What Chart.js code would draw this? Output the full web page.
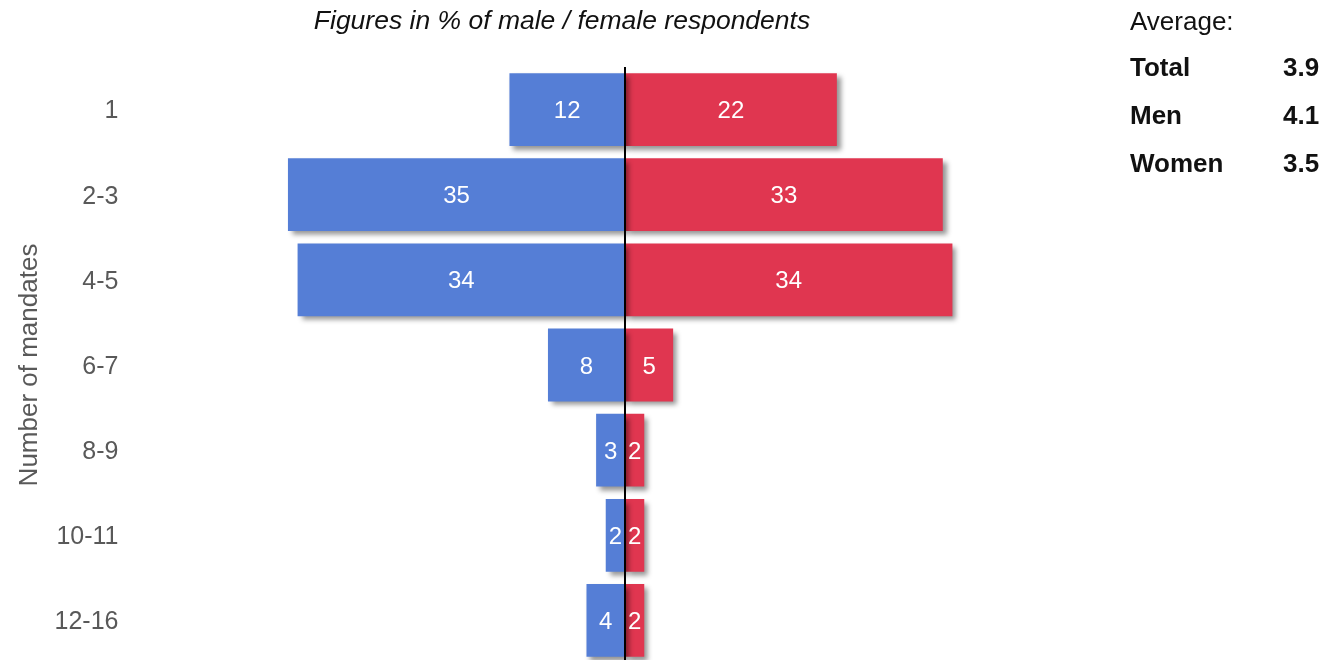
<!DOCTYPE html>
<html>
<head>
<meta charset="utf-8">
<title>Number of mandates by gender</title>
<script src="https://cdn.jsdelivr.net/npm/chart.js@4/dist/chart.umd.min.js"></script>
<style>
  html, body { margin: 0; padding: 0; background: #fff; overflow: hidden; }
  canvas { display: block; }
</style>
</head>
<body>
<canvas id="myChart" width="1331" height="695"></canvas>
<script>
'use strict';

// DATA
const mandates = ['1', '2-3', '4-5', '6-7', '8-9', '10-11', '12-16'];
const menValues = [12, 35, 34, 8, 3, 2, 4];
const womenValues = [22, 33, 34, 5, 2, 2, 2];

const averageLabels = ['Total', 'Men', 'Women'];
const averageValues = ['3.9', '4.1', '3.5'];

const chartTitle = 'Figures in % of male / female respondents';

const blue = 'rgb(85, 126, 214)';
const red = 'rgb(224, 54, 80)';
const fontFamily = '"Liberation Sans", Arial, sans-serif';

// men go to the left of the axis, so they get negative values
const menLeft = menValues.map(v => -v);

// drop shadow under the bars
const barShadow = {
  id: 'barShadow',
  beforeDatasetsDraw(chart) {
    const ctx = chart.ctx;
    ctx.save();
    ctx.shadowColor = 'rgba(0, 0, 0, 0.42)';
    ctx.shadowBlur = 5;
    ctx.shadowOffsetX = 4;
    ctx.shadowOffsetY = 4;
  },
  afterDatasetsDraw(chart) {
    chart.ctx.restore();
  }
};

// values inside the bars, center line, title and the averages box
const extras = {
  id: 'extras',
  afterDatasetsDraw(chart) {
    const ctx = chart.ctx;
    const area = chart.chartArea;
    const x0 = chart.scales.x.getPixelForValue(0);

    ctx.save();
    ctx.fillStyle = '#fff';
    ctx.font = '24px ' + fontFamily;
    ctx.textAlign = 'center';
    ctx.textBaseline = 'middle';
    chart.data.datasets.forEach((ds, i) => {
      chart.getDatasetMeta(i).data.forEach((bar, j) => {
        const cx = (bar.x + bar.base) / 2;
        ctx.fillText(String(Math.abs(ds.data[j])), cx, bar.y + 2);
      });
    });

    ctx.strokeStyle = '#000';
    ctx.lineWidth = 2;
    ctx.beginPath();
    ctx.moveTo(x0, area.top);
    ctx.lineTo(x0, chart.height);
    ctx.stroke();

    ctx.fillStyle = '#111';
    ctx.font = 'italic 26.5px ' + fontFamily;
    ctx.fillText(chartTitle, 562, 22);

    ctx.textAlign = 'left';
    ctx.font = '26px ' + fontFamily;
    ctx.fillText('Average:', 1130, 23);
    ctx.font = 'bold 26px ' + fontFamily;
    for (let i = 0; i < averageLabels.length; i++) {
      const y = 69 + i * 48;
      ctx.fillText(averageLabels[i], 1130, y);
      ctx.fillText(averageValues[i], 1283, y);
    }
    ctx.restore();
  }
};

const data = {
  labels: mandates,
  datasets: [
    {
      label: 'Men',
      data: menLeft,
      backgroundColor: blue,
      borderWidth: 0
    },
    {
      label: 'Women',
      data: womenValues,
      backgroundColor: red,
      borderWidth: 0
    }
  ]
};

const config = {
  type: 'bar',
  data: data,
  options: {
    indexAxis: 'y',
    responsive: false,
    animation: false,
    categoryPercentage: 1,
    barPercentage: 0.855,
    layout: {
      padding: { top: 67, right: 224.5, bottom: 15, left: 0 }
    },
    plugins: {
      legend: { display: false },
      tooltip: { enabled: false }
    },
    scales: {
      x: {
        display: false,
        stacked: true,
        min: -50,
        max: 50
      },
      y: {
        stacked: true,
        grid: { display: false },
        border: { display: false },
        ticks: {
          color: '#595959',
          padding: 17,
          labelOffset: 2,
          font: { family: fontFamily, size: 25 }
        },
        title: {
          display: true,
          text: 'Number of mandates',
          color: '#595959',
          padding: { top: 14, bottom: 0 },
          font: { family: fontFamily, size: 26 }
        },
        afterFit(scale) {
          scale.width = 143.5;
        }
      }
    }
  },
  plugins: [barShadow, extras]
};

const myChart = new Chart(document.getElementById('myChart'), config);
</script>
</body>
</html>
